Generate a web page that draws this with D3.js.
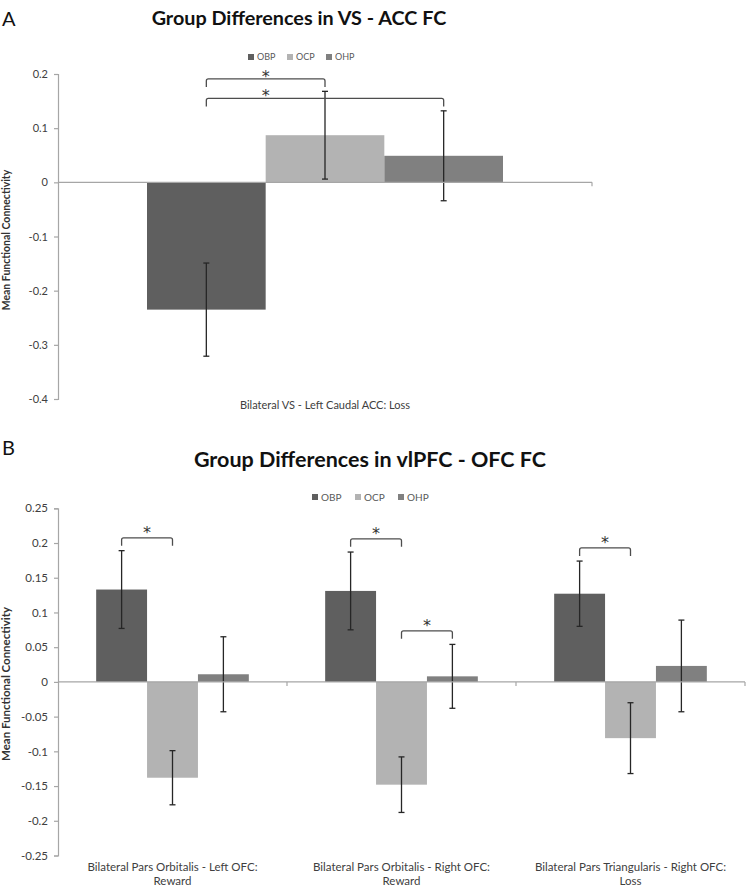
<!DOCTYPE html>
<html>
<head>
<meta charset="utf-8">
<script src="https://cdn.jsdelivr.net/npm/d3@7/dist/d3.min.js"></script>
<style>
  body { margin: 0; background: #fff; }
  svg { display: block; font-family: Lato, "Open Sans", sans-serif; }
</style>
</head>
<body>
<script>
// groups shared by both panels
var groups = ['OBP', 'OCP', 'OHP']
var groupColors = ['#5f5f5f', '#b3b3b3', '#808080']

// panel A
var topCategories = [['Bilateral VS - Left Caudal ACC: Loss']]
var topMeans = [[-0.235, 0.087, 0.049]]
var topErrors = [[0.086, 0.081, 0.083]]
var topTicks = [-0.4, -0.3, -0.2, -0.1, 0, 0.1, 0.2]
var topTickLabels = ['-0.4', '-0.3', '-0.2', '-0.1', '0', '0.1', '0.2']
// significance brackets: category index, from group, to group, level
var topBrackets = [
  { cat: 0, from: 'OBP', to: 'OCP', level: 0.191 },
  { cat: 0, from: 'OBP', to: 'OHP', level: 0.155 }
]

// panel B
var botCategories = [
  ['Bilateral Pars Orbitalis - Left OFC:', 'Reward'],
  ['Bilateral Pars Orbitalis - Right OFC:', 'Reward'],
  ['Bilateral Pars Triangularis - Right OFC:', 'Loss']
]
var botMeans = [
  [0.133, -0.138, 0.011],
  [0.131, -0.148, 0.008],
  [0.127, -0.081, 0.023]
]
var botErrors = [
  [0.056, 0.039, 0.054],
  [0.056, 0.040, 0.046],
  [0.047, 0.051, 0.066]
]
var botTicks = [-0.25, -0.2, -0.15, -0.1, -0.05, 0, 0.05, 0.1, 0.15, 0.2, 0.25]
var botTickLabels = ['-0.25', '-0.2', '-0.15', '-0.1', '-0.05', '0', '0.05', '0.1', '0.15', '0.2', '0.25']
var botBrackets = [
  { cat: 0, from: 'OBP', to: 'OCP', level: 0.2075 },
  { cat: 1, from: 'OBP', to: 'OCP', level: 0.206 },
  { cat: 1, from: 'OCP', to: 'OHP', level: 0.0735 },
  { cat: 2, from: 'OBP', to: 'OCP', level: 0.193 }
]

var svg = d3.select('body').append('svg')
  .attr('width', 747)
  .attr('height', 891)

function drawPanel(cfg) {
  var g = svg.append('g')

  var y = d3.scaleLinear().domain(cfg.domain).range(cfg.yRange)
  var catIdx = d3.range(cfg.categories.length)
  var x0 = d3.scaleBand().domain(catIdx).range(cfg.xRange).padding(0)
  // Excel style gap width 150%
  var x1 = d3.scaleBand().domain(groups).range([0, x0.bandwidth()])
    .paddingInner(0).paddingOuter(0.75)
  var color = d3.scaleOrdinal().domain(groups).range(groupColors)
  function cx(c, k) { return x0(c) + x1(k) + x1.bandwidth() / 2 }

  // panel letter + title
  g.append('text')
    .attr('x', 2).attr('y', cfg.letterY)
    .attr('font-size', 20).attr('fill', '#111')
    .text(cfg.letter)
  g.append('text')
    .attr('x', cfg.titleX).attr('y', cfg.titleY)
    .attr('text-anchor', 'middle')
    .attr('font-size', cfg.titleSize).attr('font-weight', 'bold').attr('fill', '#111')
    .text(cfg.title)

  // legend
  var leg = g.selectAll('g.leg').data(groups).enter().append('g')
    .attr('transform', function(d, i) {
      return 'translate(' + (cfg.legendX + i * cfg.legendStep) + ',' + cfg.legendY + ')'
    })
  leg.append('rect')
    .attr('x', 0).attr('y', -3).attr('width', 6).attr('height', 6)
    .attr('fill', function(d) { return color(d) })
  leg.append('text')
    .attr('x', 9).attr('y', 0).attr('dy', '0.35em')
    .attr('font-size', cfg.legendSize).attr('fill', '#595959')
    .text(function(d) { return d })

  // y axis
  var yAxis = g.append('g')
    .attr('transform', 'translate(' + cfg.xRange[0] + ',0)')
    .call(d3.axisLeft(y).tickValues(cfg.ticks).tickSize(4).tickPadding(6)
      .tickFormat(function(d, i) { return cfg.tickLabels[i] }))
  yAxis.select('.domain').attr('stroke', '#a6a6a6').attr('stroke-width', 1.2)
  yAxis.selectAll('.tick line').attr('stroke', '#a6a6a6').attr('stroke-width', 1.2)
  yAxis.selectAll('.tick text')
    .attr('font-size', cfg.tickSize).attr('fill', '#404040')
    .attr('font-family', 'Lato, sans-serif')

  g.append('text')
    .attr('transform', 'translate(' + cfg.yLabelX + ',' + cfg.yLabelY + ') rotate(-90)')
    .attr('text-anchor', 'middle')
    .attr('font-size', cfg.yLabelSize).attr('font-weight', 'bold').attr('fill', '#333')
    .text('Mean Functional Connectivity')

  // bars
  var cats = g.selectAll('g.cat').data(catIdx).enter().append('g')
    .attr('transform', function(c) { return 'translate(' + x0(c) + ',0)' })

  cats.selectAll('rect').data(function(c) {
    return groups.map(function(k, j) {
      return { g: k, v: cfg.means[c][j], e: cfg.errors[c][j] }
    })
  }).enter().append('rect')
    .attr('x', function(d) { return x1(d.g) })
    .attr('width', x1.bandwidth())
    .attr('y', function(d) { return y(Math.max(0, d.v)) })
    .attr('height', function(d) { return Math.abs(y(d.v) - y(0)) })
    .attr('fill', function(d) { return color(d.g) })

  // zero line with category tick marks
  g.append('line')
    .attr('x1', cfg.xRange[0]).attr('x2', cfg.xRange[1])
    .attr('y1', y(0)).attr('y2', y(0))
    .attr('stroke', '#a6a6a6').attr('stroke-width', 1.2)
  g.selectAll('line.ctick').data(catIdx).enter().append('line')
    .attr('x1', function(c) { return x0(c) + x0.bandwidth() })
    .attr('x2', function(c) { return x0(c) + x0.bandwidth() })
    .attr('y1', y(0)).attr('y2', y(0) + 4)
    .attr('stroke', '#a6a6a6').attr('stroke-width', 1.2)

  // error bars
  var eb = cats.selectAll('g.err').data(function(c) {
    return groups.map(function(k, j) {
      return { g: k, v: cfg.means[c][j], e: cfg.errors[c][j] }
    })
  }).enter().append('g')
    .attr('stroke', '#262626').attr('stroke-width', 1.3)
  eb.append('line')
    .attr('x1', function(d) { return x1(d.g) + x1.bandwidth() / 2 })
    .attr('x2', function(d) { return x1(d.g) + x1.bandwidth() / 2 })
    .attr('y1', function(d) { return y(d.v + d.e) })
    .attr('y2', function(d) { return y(d.v - d.e) })
  ;[1, -1].forEach(function(s) {
    eb.append('line')
      .attr('x1', function(d) { return x1(d.g) + x1.bandwidth() / 2 - 3 })
      .attr('x2', function(d) { return x1(d.g) + x1.bandwidth() / 2 + 3 })
      .attr('y1', function(d) { return y(d.v + s * d.e) })
      .attr('y2', function(d) { return y(d.v + s * d.e) })
  })

  // category labels
  var lab = g.selectAll('text.clab').data(catIdx).enter().append('text')
    .attr('text-anchor', 'middle')
    .attr('font-size', cfg.catSize).attr('fill', '#404040')
    .attr('transform', function(c) {
      return 'translate(' + (x0(c) + x0.bandwidth() / 2) + ',' + cfg.catY + ')'
    })
  lab.selectAll('tspan').data(function(c) { return cfg.categories[c] })
    .enter().append('tspan')
    .attr('x', 0)
    .attr('dy', function(d, i) { return i === 0 ? '0.35em' : '1.25em' })
    .text(function(d) { return d })

  // significance brackets
  var br = g.selectAll('g.br').data(cfg.brackets).enter().append('g')
  br.append('path')
    .attr('fill', 'none').attr('stroke', '#4d4d4d').attr('stroke-width', 1.3)
    .attr('d', function(b) {
      var xa = cx(b.cat, b.from)
      var xb = cx(b.cat, b.to)
      var yy = y(b.level)
      return 'M' + xa + ',' + (yy + 8) + 'V' + (yy + 2) + 'Q' + xa + ',' + yy + ' ' + (xa + 2) + ',' + yy +
        'H' + (xb - 2) + 'Q' + xb + ',' + yy + ' ' + xb + ',' + (yy + 2) + 'V' + (yy + 8)
    })
  // star sits over the first pair of groups in the bracket
  br.append('text')
    .attr('x', function(b) {
      var next = groups[groups.indexOf(b.from) + 1]
      return (cx(b.cat, b.from) + cx(b.cat, next)) / 2
    })
    .attr('y', function(b) { return y(b.level) + cfg.starDy })
    .attr('text-anchor', 'middle')
    .attr('font-family', '"DejaVu Sans", sans-serif')
    .attr('font-size', 16).attr('fill', '#333')
    .text('*')
}

drawPanel({
  letter: 'A', letterY: 26,
  title: 'Group Differences in VS - ACC FC', titleX: 299, titleY: 25, titleSize: 19.8,
  legendX: 248, legendStep: 39, legendY: 57, legendSize: 9,
  domain: [-0.4, 0.2], yRange: [399, 74], xRange: [58, 592],
  ticks: topTicks, tickLabels: topTickLabels, tickSize: 11,
  yLabelX: 10, yLabelY: 240, yLabelSize: 10.5,
  categories: topCategories, means: topMeans, errors: topErrors,
  catY: 405, catSize: 11,
  brackets: topBrackets, starDy: 3
})

drawPanel({
  letter: 'B', letterY: 455,
  title: 'Group Differences in vlPFC - OFC FC', titleX: 370, titleY: 467, titleSize: 21.5,
  legendX: 312, legendStep: 43, legendY: 497, legendSize: 10,
  domain: [-0.25, 0.25], yRange: [855.5, 508.3], xRange: [58, 745],
  ticks: botTicks, tickLabels: botTickLabels, tickSize: 11.5,
  yLabelX: 10, yLabelY: 684, yLabelSize: 11.5,
  categories: botCategories, means: botMeans, errors: botErrors,
  catY: 867, catSize: 11.5,
  brackets: botBrackets, starDy: 0
})
</script>
</body>
</html>
